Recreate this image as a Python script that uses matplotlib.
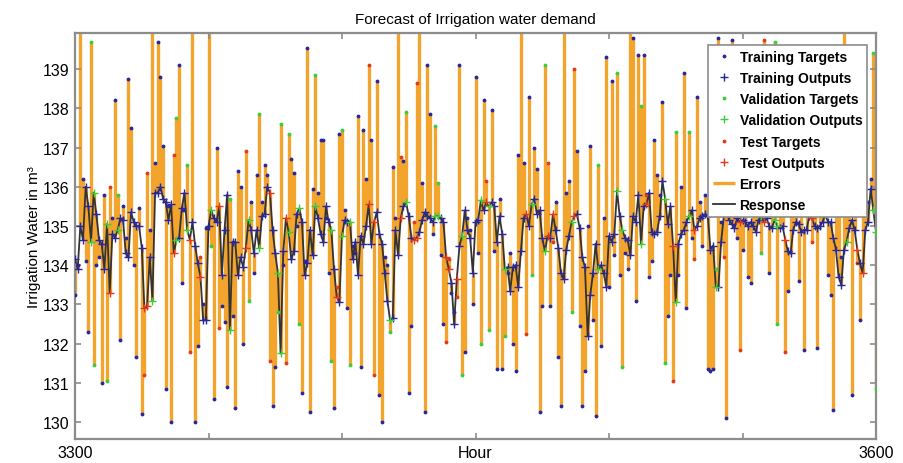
import numpy as np
import matplotlib.pyplot as plt

plt.rcParams['font.family'] = ['Liberation Sans', 'DejaVu Sans']

#### data (hours 3300..3600) ####

hours = np.arange(3300, 3601)

outputs = [
    # 3300-3349
    134.15, 133.9, 135.0, 134.65, 136.0, 135.5, 134.6, 135.85, 135.3, 134.65,
    134.55, 133.9, 135.05, 133.3, 134.8, 134.7, 134.9, 135.2, 135.15, 134.3,
    134.2, 135.35, 135.1, 135.0, 135.0, 134.45, 132.9, 132.95, 134.2, 133.1,
    135.85, 135.85, 136.0, 135.7, 135.6, 135.15, 135.55, 134.3, 134.65, 134.7,
    135.45, 135.85, 134.9, 134.65, 135.1, 134.5, 134.05, 133.7, 132.6, 132.6,
    # 3350-3399
    135.0, 135.4, 135.2, 135.1, 135.5, 133.75, 134.9, 135.8, 132.35, 134.6,
    134.6, 133.75, 134.2, 133.95, 134.45, 135.15, 134.9, 134.3, 134.9, 134.45,
    135.25, 135.3, 136.0, 135.85, 134.9, 134.3, 133.8, 131.75, 134.35, 135.2,
    134.85, 134.15, 134.35, 135.3, 135.45, 135.1, 133.75, 134.05, 134.9, 134.25,
    135.5, 135.2, 134.8, 134.6, 135.5, 135.1, 134.9, 133.9, 133.2, 133.05,
    # 3400-3449
    134.75, 135.15, 135.1, 135.1, 134.15, 134.6, 133.75, 134.75, 134.55, 135.0,
    135.55, 134.55, 135.1, 135.35, 134.8, 134.55, 133.8, 133.1, 132.6, 132.65,
    134.9, 134.25, 135.2, 135.5, 135.6, 135.25, 134.7, 134.65, 134.7, 134.85,
    135.15, 135.35, 135.25, 135.2, 135.1, 135.25, 135.25, 135.2, 135.1, 134.2,
    133.9, 133.55, 132.5, 133.65, 134.5, 134.75, 135.4, 134.9, 134.7, 133.8,
    # 3450-3499
    135.1, 135.15, 135.65, 135.4, 135.6, 135.5, 135.6, 135.5, 134.6, 135.25,
    134.8, 133.9, 133.95, 133.35, 133.95, 134.0, 133.45, 134.35, 135.2, 135.3,
    135.0, 135.55, 135.7, 135.3, 135.4, 134.7, 134.35, 134.75, 134.7, 135.3,
    134.9, 134.45, 133.8, 133.65, 134.4, 134.75, 135.1, 135.25, 135.3, 134.95,
    134.2, 133.95, 132.2, 133.25, 133.8, 134.55, 133.9, 134.0, 133.8, 133.45,
    # 3500-3549
    134.75, 134.6, 134.8, 135.9, 135.25, 134.9, 134.7, 134.65, 134.25, 135.25,
    135.1, 135.8, 134.55, 135.5, 135.55, 135.85, 134.85, 134.8, 134.85, 135.25,
    136.15, 135.7, 135.05, 135.5, 134.5, 133.05, 134.55, 134.8, 134.9, 135.1,
    135.25, 135.4, 134.9, 135.0, 135.2, 135.25, 135.3, 135.25, 134.4, 134.5,
    133.45, 133.45, 134.6, 135.25, 135.35, 135.15, 135.05, 134.95, 135.2, 135.1,
    # 3550-3600
    135.15, 135.1, 135.0, 135.1, 135.0, 134.85, 135.15, 135.25, 135.1, 135.2,
    135.0, 134.95, 135.15, 135.0, 134.95, 135.0, 134.65, 134.35, 134.3, 134.9,
    135.1, 135.05, 134.85, 134.9, 134.9, 135.25, 135.2, 135.0, 134.95, 135.0,
    135.1, 135.3, 135.1, 135.1, 134.7, 134.4, 133.7, 133.5, 134.4, 134.6,
    134.95, 135.15, 134.9, 134.4, 134.05, 133.8, 134.9, 135.1, 135.95, 135.4, 134.85,
]

targets = [
    # 3300-3349
    133.25, 134.0, 140.3, 136.2, 134.1, 132.3, 139.7, 131.45, 134.0, 134.2,
    131.0, 135.8, 131.05, 136.0, 135.2, 138.2, 135.8, 132.1, 135.5, 134.7,
    138.75, 137.5, 134.0, 131.65, 135.45, 130.2, 131.2, 136.35, 134.9, 140.3,
    136.6, 139.7, 138.8, 137.05, 130.85, 135.5, 130.0, 136.8, 137.75, 139.1,
    133.55, 135.4, 136.55, 131.8, 140.3, 130.0, 131.95, 134.2, 133.0, 134.95,
    # 3350-3399
    140.3, 134.5, 130.6, 137.0, 132.4, 132.95, 132.55, 130.9, 135.7, 132.7,
    130.35, 136.4, 136.0, 132.0, 136.9, 133.1, 135.6, 133.8, 136.3, 137.85,
    135.6, 136.55, 136.3, 131.55, 130.4, 131.4, 132.8, 137.6, 134.0, 131.5,
    137.35, 136.7, 136.35, 135.0, 132.5, 130.75, 134.1, 139.55, 130.25, 135.95,
    138.85, 135.85, 137.2, 137.2, 135.2, 133.8, 131.55, 130.35, 133.45, 137.35,
    # 3400-3449
    137.45, 135.4, 132.9, 131.45, 134.5, 134.3, 137.8, 131.4, 137.45, 136.2,
    139.1, 137.2, 131.2, 138.7, 130.7, 130.0, 134.2, 134.0, 132.3, 136.5,
    135.2, 140.3, 136.75, 136.65, 137.9, 130.75, 132.45, 135.1, 138.65, 140.3,
    136.1, 130.25, 139.1, 137.85, 134.8, 137.55, 136.1, 134.25, 132.5, 132.05,
    134.15, 133.3, 132.8, 133.2, 139.1, 131.2, 131.8, 135.2, 134.9, 133.0,
    # 3450-3499
    138.8, 134.3, 132.0, 138.2, 136.15, 132.35, 137.95, 134.35, 131.35, 135.7,
    131.35, 132.2, 133.8, 134.3, 132.0, 131.3, 136.8, 140.3, 136.6, 132.25,
    138.3, 133.75, 137.0, 136.45, 130.25, 132.95, 139.1, 136.6, 132.95, 134.6,
    135.6, 131.65, 130.4, 140.3, 135.85, 136.15, 132.8, 139.0, 136.9, 132.45,
    130.4, 131.3, 135.0, 137.05, 132.6, 130.15, 136.55, 131.95, 135.2, 139.3,
    # 3500-3549
    133.45, 138.7, 134.25, 138.9, 133.75, 131.4, 134.3, 133.9, 140.3, 139.8,
    133.1, 139.35, 138.05, 139.35, 135.8, 133.7, 134.1, 137.2, 136.3, 135.8,
    138.15, 131.5, 132.7, 133.75, 131.05, 137.4, 133.75, 136.0, 138.9, 132.9,
    137.4, 134.7, 134.15, 138.3, 135.6, 134.5, 135.8, 131.35, 131.3, 131.35,
    133.9, 139.8, 135.1, 134.2, 130.1, 135.6, 139.75, 135.4, 134.7, 131.85,
    # 3550-3600
    134.4, 135.6, 133.7, 133.55, 137.5, 136.2, 135.8, 134.3, 139.75, 137.1,
    133.8, 136.6, 139.7, 132.5, 137.9, 136.3, 131.8, 133.35, 136.9, 137.6,
    135.7, 133.6, 138.2, 131.85, 136.8, 137.3, 134.6, 138.0, 131.9, 136.4,
    135.7, 137.1, 133.75, 133.25, 130.3, 136.9, 137.6, 134.2, 140.3, 136.1,
    137.0, 130.7, 135.6, 134.05, 132.6, 136.5, 137.8, 135.6, 136.2, 139.4, 130.85,
]

# positions (index from 3300) that belong to validation / test sets, rest is training
val_idx = [6, 7, 12, 16, 29, 38, 42, 51, 58, 65, 69, 76, 77, 80, 84, 90, 96,
           100, 103, 118, 124, 135, 136, 145, 152, 155, 161, 171, 176, 186, 196,
           203, 205, 212, 221, 225, 230, 240, 257, 262, 263, 281, 289, 299, 300]
test_idx = [13, 26, 27, 37, 43, 47, 54, 64, 73, 79, 98, 110, 112, 122, 127, 128,
            139, 140, 143, 154, 169, 177, 179, 187, 214, 224, 232, 243, 249,
            258, 266, 276, 293, 295]

outputs = np.array(outputs)
targets = np.array(targets)
sets = np.zeros(len(hours), dtype=int)
sets[val_idx] = 1
sets[test_idx] = 2

#### plot ####

fig = plt.figure(figsize=(9.04, 4.64), dpi=100)
ax = fig.add_axes([75/904, 24/464, 801/904, 406/464])

c_err = '#f2a42c'
c_resp = '#333333'
cols = ['#28289a', '#3ccc3c', '#e23a1e']

err = ax.vlines(hours, outputs, targets, color=c_err, lw=2.4, zorder=1)
resp, = ax.plot(hours, outputs, color=c_resp, lw=1.3, zorder=2)

handles = []
for s in range(3):
    m = sets == s
    ht, = ax.plot(hours[m], targets[m], ls='none', marker='.', ms=3.5,
                  color=cols[s], zorder=3)
    ho, = ax.plot(hours[m], outputs[m], ls='none', marker='+', ms=5.5, mew=1,
                  color=cols[s], zorder=4)
    handles += [ht, ho]
labels = ['Training Targets', 'Training Outputs', 'Validation Targets',
          'Validation Outputs', 'Test Targets', 'Test Outputs', 'Errors', 'Response']
handles += [err, resp]

ax.set_xlim(3300, 3600)
ax.set_ylim(129.57, 139.92)
ax.set_xticks(np.arange(3300, 3601, 50))
ax.set_xticklabels(['3300', '', '', '', '', '', '3600'])
ax.set_yticks(np.arange(130, 140))
ax.tick_params(direction='in', top=True, right=True, length=4, width=1.2,
               color='#8c8c8c', labelsize=11.5, pad=4)
for sp in ax.spines.values():
    sp.set_color('#8c8c8c')
    sp.set_linewidth(1.6)

ax.set_title('Forecast of Irrigation water demand', fontsize=11, pad=7)
ax.set_xlabel('Hour', fontsize=11.5, labelpad=-10.5)
ax.set_ylabel('Irrigation Water in m³', fontsize=11, labelpad=1)

leg = ax.legend(handles, labels, loc='upper right', bbox_to_anchor=(0.989, 0.971),
                fancybox=False, framealpha=1, edgecolor='#8c8c8c',
                prop={'size': 10, 'weight': 'bold'}, handlelength=1.6,
                handletextpad=0.3, labelspacing=0.52, borderpad=0.35,
                borderaxespad=0)
leg.get_frame().set_linewidth(1.2)

plt.savefig('out.png', dpi=100)
